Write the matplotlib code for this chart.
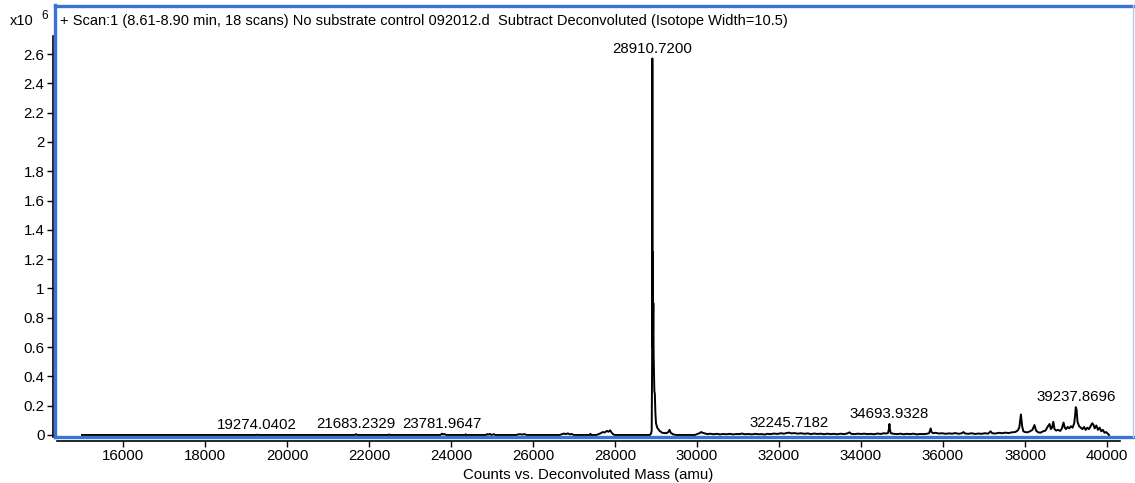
# Deconvoluted mass spectrum, no substrate control
import matplotlib.pyplot as plt
from matplotlib.lines import Line2D

plt.rcParams['font.family'] = ['Liberation Sans', 'DejaVu Sans']

# deconvoluted mass (amu) and counts (x10^6)
mass = [15000, 19250, 19274.04, 19300, 21660, 21683.23, 21710, 22470, 22490, 22510,
        23740, 23781.96, 23800, 23850, 23880, 24340, 24360, 24380,
        24850, 24880, 24900, 24950, 24980, 25050, 25080,
        25600, 25630, 25700, 25740, 25800, 25840,
        26650, 26700, 26760, 26800, 26850, 26900, 26950, 26990,
        27380, 27400, 27420, 27550, 27600, 27650, 27700, 27750, 27800, 27840, 27880, 27920, 27960, 28000,
        28850, 28880, 28895, 28905, 28910.72, 28916, 28922, 28928, 28935, 28942, 28950, 28960,
        28972, 28985, 29000, 29030, 29080, 29150, 29250, 29300, 29330, 29360, 29420, 29500,
        29950, 30000, 30060, 30100, 30140, 30200, 30260, 30320, 30400, 30480, 30560, 30640,
        30720, 30800, 30880, 30960, 31040, 31100, 31160, 31260, 31340, 31420, 31500, 31580,
        31660, 31700, 31800, 31880, 31960, 32040, 32120, 32200, 32245.72, 32300, 32380, 32460,
        32540, 32620, 32700, 32780, 32860, 32940, 33020, 33100, 33180, 33260, 33340, 33420,
        33500, 33580, 33660, 33720, 33760, 33840, 33920, 34000, 34080, 34160, 34240, 34320,
        34400, 34480, 34560, 34620, 34660, 34680, 34693.93, 34710, 34730, 34800, 34880, 34960,
        35040, 35120, 35200, 35280, 35360, 35440, 35520, 35600, 35660, 35700, 35720, 35760,
        35820, 35900, 35980, 36060, 36140, 36220, 36300, 36380, 36460, 36500, 36540, 36620,
        36700, 36780, 36860, 36940, 37020, 37100, 37160, 37200, 37280, 37360, 37440, 37520,
        37600, 37680, 37760, 37820, 37860, 37900, 37930, 37960, 38000, 38060, 38120, 38180,
        38230, 38270, 38320, 38380, 38440, 38500, 38560, 38600, 38630, 38660, 38690, 38720,
        38760, 38800, 38860, 38900, 38940, 38970, 39000, 39040, 39080, 39120, 39160, 39200,
        39220, 39237.87, 39260, 39280, 39320, 39360, 39400, 39440, 39480, 39520, 39560, 39600,
        39640, 39670, 39700, 39740, 39780, 39820, 39860, 39900, 39940, 39980, 40020, 40050]
counts = [0, 0, 0.002, 0, 0, 0.006, 0, 0, 0.004, 0,
          0, 0.009, 0.004, 0.006, 0, 0, 0.005, 0,
          0, 0.006, 0.002, 0.007, 0, 0.005, 0,
          0, 0.004, 0.005, 0.003, 0.006, 0,
          0, 0.005, 0.010, 0.006, 0.011, 0.004, 0.007, 0,
          0, 0.008, 0, 0, 0.006, 0.012, 0.020, 0.017, 0.028, 0.022, 0.032, 0.015, 0.004, 0,
          0, 0.010, 0.030, 0.50, 2.57, 0.60, 1.25, 0.70, 0.90, 0.55, 0.45, 0.30,
          0.28, 0.15, 0.08, 0.05, 0.03, 0.015, 0.012, 0.020, 0.035, 0.015, 0.004, 0,
          0, 0.006, 0.012, 0.020, 0.015, 0.010, 0.006, 0.009, 0.005, 0.008, 0.004, 0.007,
          0.005, 0.008, 0.004, 0.007, 0.006, 0.010, 0.005, 0.007, 0.004, 0.008, 0.005, 0.006,
          0.003, 0.008, 0.006, 0.010, 0.007, 0.012, 0.009, 0.014, 0.016, 0.011, 0.013, 0.009,
          0.012, 0.008, 0.011, 0.006, 0.010, 0.007, 0.009, 0.005, 0.009, 0.006, 0.008, 0.005,
          0.009, 0.006, 0.010, 0.018, 0.008, 0.006, 0.009, 0.007, 0.009, 0.006, 0.008, 0.005,
          0.010, 0.007, 0.012, 0.010, 0.014, 0.040, 0.075, 0.030, 0.012, 0.008, 0.006, 0.009,
          0.005, 0.008, 0.006, 0.009, 0.004, 0.007, 0.006, 0.008, 0.012, 0.045, 0.020, 0.012,
          0.015, 0.010, 0.012, 0.008, 0.011, 0.009, 0.013, 0.008, 0.012, 0.020, 0.010, 0.008,
          0.012, 0.007, 0.010, 0.008, 0.012, 0.009, 0.025, 0.012, 0.010, 0.015, 0.012, 0.016,
          0.013, 0.018, 0.020, 0.030, 0.050, 0.140, 0.060, 0.025, 0.020, 0.018, 0.025, 0.035,
          0.068, 0.030, 0.018, 0.016, 0.025, 0.030, 0.060, 0.075, 0.040, 0.050, 0.090, 0.040,
          0.030, 0.035, 0.028, 0.045, 0.085, 0.050, 0.040, 0.055, 0.045, 0.060, 0.050, 0.080,
          0.130, 0.190, 0.170, 0.090, 0.060, 0.050, 0.040, 0.055, 0.035, 0.050, 0.040, 0.060,
          0.080, 0.070, 0.045, 0.065, 0.035, 0.050, 0.025, 0.035, 0.015, 0.020, 0.008, 0]

# labelled peaks
peak_mass = [19274.0402, 21683.2329, 23781.9647, 28910.7200, 32245.7182, 34693.9328, 39237.8696]
peak_counts = [0.002, 0.006, 0.009, 2.57, 0.016, 0.075, 0.190]

xticks = [16000, 18000, 20000, 22000, 24000, 26000, 28000, 30000, 32000, 34000, 36000, 38000, 40000]
yticks = [0, 0.2, 0.4, 0.6, 0.8, 1, 1.2, 1.4, 1.6, 1.8, 2, 2.2, 2.4, 2.6]
ytick_labels = ['0', '0.2', '0.4', '0.6', '0.8', '1', '1.2', '1.4', '1.6', '1.8', '2', '2.2', '2.4', '2.6']

W, H = 1135, 483
fig = plt.figure(figsize=(W / 100, H / 100), dpi=100)
ax = fig.add_axes([57 / W, (H - 437) / H, (1120 - 57) / W, (437 - 5) / H])

ax.plot(mass, counts, color='black', lw=1.4, zorder=3)

for m, c in zip(peak_mass, peak_counts):
    ax.annotate('%.4f' % m, xy=(m, c), xytext=(0, 2), textcoords='offset points',
                ha='center', va='bottom', fontsize=10.8, zorder=4)

ax.set_xlim(14390, 40317)
ax.set_ylim(-0.0137, 2.935)

for s in ['top', 'right']:
    ax.spines[s].set_visible(False)
ax.spines['left'].set_position(('outward', 3))
ax.spines['bottom'].set_position(('outward', 3))
ax.spines['left'].set_bounds(-0.0137, 2.72)
ax.spines['left'].set_linewidth(1.2)
ax.spines['bottom'].set_linewidth(1.2)

ax.set_xticks(xticks)
ax.set_yticks(yticks)
ax.set_yticklabels(ytick_labels)
ax.tick_params(axis='both', direction='out', length=4, width=1, labelsize=10.8, pad=2)
ax.set_xlabel('Counts vs. Deconvoluted Mass (amu)', fontsize=10.8, labelpad=3)

# blue frame round the plot region
blue = '#3874d6'
fig.add_artist(Line2D([55 / W, 1134 / W], [1 - 6 / H, 1 - 6 / H], color=blue, lw=2.4))
fig.add_artist(Line2D([55 / W, 55 / W], [1 - 5 / H, 1 - 437 / H], color=blue, lw=2.4))
fig.add_artist(Line2D([55 / W, 1134 / W], [1 - 437 / H, 1 - 437 / H], color=blue, lw=2.4, zorder=2))
fig.add_artist(Line2D([1133 / W, 1133 / W], [1 - 5 / H, 1 - 437 / H], color='#b4cbef', lw=1.0))

fig.text(60 / W, 1 - 21 / H,
         '+ Scan:1 (8.61-8.90 min, 18 scans) No substrate control 092012.d  Subtract Deconvoluted (Isotope Width=10.5)',
         fontsize=10.5, va='center', ha='left')
fig.text(10 / W, 1 - 21 / H, 'x10', fontsize=10.5, va='center', ha='left')
fig.text(41 / W, 1 - 16 / H, '6', fontsize=8.5, va='center', ha='left')

fig.savefig('out.png', dpi=100)
